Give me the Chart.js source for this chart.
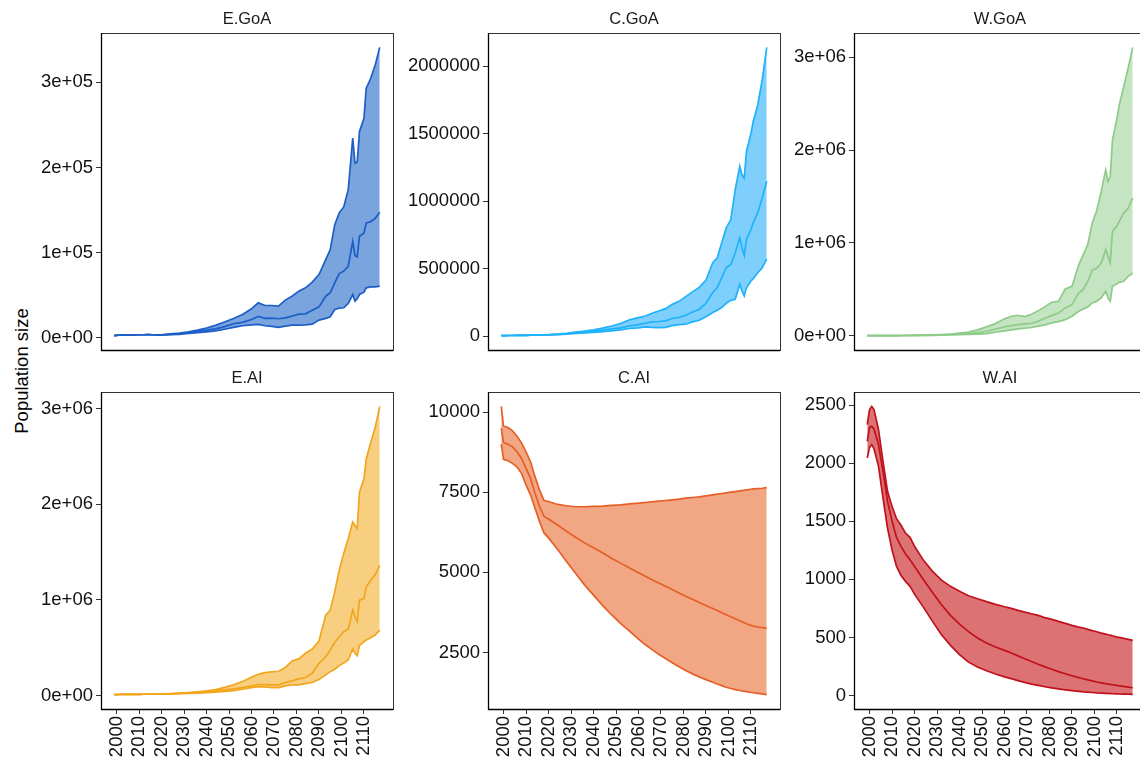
<!DOCTYPE html>
<html>
<head>
<meta charset="utf-8">
<script src="https://cdn.jsdelivr.net/npm/chart.js@4.4.1/dist/chart.umd.min.js"></script>
<style>
  body { margin: 0; background: #fff; width: 1140px; height: 765px; overflow: hidden; position: relative;
         font-family: "Liberation Sans", Arial, sans-serif; }
  canvas { position: absolute; }
  .strip { position: absolute; font-size: 16.5px; line-height: 18px; color: #1a1a1a; text-align: center; }
  #ylab { position: absolute; width: 240px; left: -98px; top: 361px; font-size: 18.5px; line-height: 20px;
          text-align: center; color: #000; transform: rotate(-90deg); }
</style>
</head>
<body>
<div id="ylab">Population size</div>
<script>
// simulation years (x values)
const years = [1999, 2000, 2001, 2002, 2004, 2006, 2008, 2010, 2012, 2014, 2016, 2018, 2020,
  2024, 2028, 2032, 2036, 2040, 2044, 2048, 2052, 2056, 2060, 2063, 2066, 2069, 2072, 2075,
  2078, 2081, 2084, 2087, 2090, 2093, 2095, 2097, 2099, 2101, 2103, 2105, 2106, 2107, 2108,
  2110, 2111, 2113, 2115, 2117];
const xTicks = [2000, 2010, 2020, 2030, 2040, 2050, 2060, 2070, 2080, 2090, 2100, 2110];

// E.GoA
const eGoaLow = [2600, 2800, 2900, 3000, 3200, 3300, 3400, 3500, 3500, 3600, 3500, 3300, 3200,
  3500, 4000, 5000, 6000, 7000, 8000, 10000, 12100, 14100, 15200, 15600, 14100, 13300, 12100, 13700,
  14800, 14800, 15200, 16000, 20700, 22700, 24600, 33200, 34800, 35200, 40200, 50800, 43000, 45700, 50800,
  53500, 58600, 59800, 59800, 60600];
const eGoaMid = [2600, 2800, 2900, 3000, 3200, 3300, 3400, 3500, 3500, 3600, 3500, 3300, 3300,
  4000, 4800, 6000, 7500, 9000, 10500, 13000, 16400, 18000, 21500, 25000, 22700, 23000, 22300, 23400,
  25400, 27700, 28100, 32400, 36300, 48800, 52800, 64500, 75400, 78200, 84000, 113300, 96500, 95000, 119200,
  123100, 134800, 136400, 140300, 147300];
const eGoaHigh = [2600, 2800, 2900, 3000, 3200, 3300, 3400, 3500, 3500, 3600, 3500, 3300, 3400,
  4500, 5500, 7000, 9000, 11500, 14500, 18500, 22700, 27400, 34000, 41000, 37900, 37900, 37100, 44200,
  48800, 54700, 58600, 65300, 74300, 91800, 103600, 132900, 146500, 153600, 173900, 234500, 205200, 206500, 242300,
  257900, 293100, 304800, 320400, 341100];

// C.GoA
const cGoaLow = [5000, 5000, 5100, 5200, 5500, 6000, 6500, 7000, 7500, 8000, 9000, 9500, 10000,
  12000, 15000, 20000, 24000, 28000, 34000, 40000, 47000, 57000, 62000, 69000, 66000, 64000, 66000, 79000,
  86000, 89000, 106000, 118000, 145000, 175000, 192000, 212000, 244000, 266000, 273000, 384000, 335000, 298000, 359000,
  409000, 426000, 470000, 507000, 573000];
const cGoaMid = [5000, 5000, 5100, 5200, 5500, 6000, 6500, 7000, 7800, 8500, 9500, 10500, 11000,
  14000, 18000, 25000, 31000, 38000, 46000, 55000, 62000, 77000, 86000, 96000, 106000, 109000, 114000, 131000,
  140000, 155000, 180000, 200000, 244000, 323000, 360000, 433000, 507000, 531000, 618000, 728000, 655000, 598000, 716000,
  790000, 839000, 913000, 1024000, 1147000];
const cGoaHigh = [5000, 5000, 5100, 5200, 5500, 6000, 6500, 7000, 8000, 9000, 10000, 11000, 12000,
  16000, 22000, 30000, 38000, 48000, 60000, 76000, 94000, 121000, 138000, 150000, 170000, 187000, 204000, 236000,
  258000, 293000, 328000, 362000, 416000, 544000, 581000, 692000, 802000, 862000, 1085000, 1258000, 1195000, 1171000, 1368000,
  1503000, 1590000, 1712000, 1897000, 2138000];

// W.GoA
const wGoaLow = [3000, 3000, 3000, 3000, 3100, 3200, 3300, 3400, 3500, 3700, 3900, 4100, 4300,
  5000, 6000, 8000, 10000, 12000, 15000, 18000, 25000, 39000, 54000, 64000, 75000, 82000, 90000, 104000,
  118000, 140000, 154000, 175000, 211000, 265000, 290000, 311000, 354000, 372000, 408000, 480000, 408000, 372000, 534000,
  562000, 576000, 587000, 641000, 677000];
const wGoaMid = [3000, 3000, 3000, 3000, 3100, 3200, 3300, 3400, 3600, 3800, 4000, 4300, 4600,
  6000, 8000, 11000, 15000, 18000, 24000, 34000, 50000, 72000, 97000, 111000, 122000, 129000, 136000, 158000,
  190000, 218000, 247000, 301000, 336000, 462000, 497000, 587000, 706000, 730000, 784000, 927000, 856000, 784000, 1124000,
  1185000, 1232000, 1321000, 1375000, 1482000];
const wGoaHigh = [3000, 3000, 3000, 3000, 3100, 3200, 3300, 3500, 3700, 4000, 4300, 4700, 5000,
  7000, 10000, 14000, 20000, 30000, 42000, 65000, 97000, 132000, 183000, 211000, 222000, 208000, 233000, 269000,
  315000, 362000, 372000, 505000, 534000, 766000, 874000, 981000, 1214000, 1350000, 1554000, 1786000, 1661000, 1715000, 2108000,
  2341000, 2484000, 2682000, 2886000, 3104000];

// E.AI
const eAiLow = [10000, 10000, 10500, 11000, 11500, 12000, 12500, 13000, 13500, 14000, 14500, 15000, 15000,
  16000, 19000, 23000, 26000, 30000, 36000, 44000, 52000, 66000, 83000, 94000, 90000, 83000, 83000, 101000,
  111000, 111000, 125000, 136000, 167000, 216000, 250000, 275000, 313000, 341000, 372000, 487000, 442000, 417000, 522000,
  563000, 580000, 605000, 633000, 685000];
const eAiMid = [10000, 10000, 10500, 11000, 11500, 12000, 12500, 13000, 13500, 14000, 14500, 15000, 15500,
  18000, 22000, 27000, 32000, 38000, 47000, 60000, 70000, 83000, 101000, 115000, 115000, 111000, 111000, 136000,
  153000, 174000, 188000, 233000, 337000, 407000, 476000, 556000, 615000, 668000, 695000, 894000, 824000, 772000, 998000,
  1015000, 1137000, 1207000, 1265000, 1363000];
const eAiHigh = [10000, 10000, 10500, 11000, 11500, 12000, 12500, 13000, 13500, 14000, 14500, 15000, 16000,
  20000, 25000, 31000, 38000, 48000, 62000, 85000, 111000, 146000, 191000, 222000, 240000, 247000, 254000, 292000,
  362000, 383000, 442000, 487000, 570000, 841000, 893000, 1085000, 1311000, 1485000, 1641000, 1815000, 1780000, 1745000, 2128000,
  2267000, 2475000, 2649000, 2806000, 3025000];

// C.AI
const cAiLow = [9000, 8523, 8500, 8481, 8399, 8285, 8089, 7727, 7418, 7004, 6591, 6230, 6075,
  5720, 5340, 4970, 4610, 4290, 3970, 3680, 3410, 3165, 2920, 2750, 2590, 2445, 2315, 2185,
  2055, 1940, 1835, 1740, 1655, 1573, 1520, 1468, 1420, 1380, 1345, 1318, 1305, 1293, 1280,
  1255, 1246, 1228, 1210, 1189];
const cAiMid = [9500, 9050, 9020, 8998, 8915, 8760, 8554, 8244, 7934, 7469, 7056, 6746, 6663,
  6477, 6281, 6095, 5920, 5765, 5610, 5444, 5289, 5134, 4990, 4876, 4773, 4670, 4566, 4463,
  4360, 4257, 4164, 4060, 3967, 3874, 3812, 3740, 3677, 3616, 3554, 3492, 3461, 3430, 3399,
  3347, 3327, 3296, 3275, 3254];
const cAiHigh = [10176, 9556, 9540, 9514, 9411, 9246, 9039, 8760, 8450, 7986, 7572, 7242, 7211,
  7118, 7077, 7046, 7046, 7056, 7066, 7087, 7108, 7139, 7159, 7180, 7201, 7221, 7242, 7263,
  7283, 7314, 7335, 7355, 7386, 7418, 7438, 7459, 7479, 7500, 7521, 7541, 7552, 7562, 7572,
  7593, 7603, 7614, 7624, 7645];

// W.AI
const wAiLow = [2046, 2138, 2161, 2126, 1974, 1701, 1443, 1256, 1112, 1034, 983, 940, 873,
  759, 638, 523, 431, 351, 287, 245, 212, 185, 160, 145, 128, 112, 98, 86,
  75, 65, 56, 48, 41, 35, 31, 28, 25, 22, 20, 18, 17, 16, 15,
  14, 13, 12, 11, 9];
const wAiMid = [2190, 2310, 2319, 2296, 2161, 1931, 1672, 1506, 1362, 1285, 1218, 1170, 1112,
  997, 888, 782, 690, 615, 550, 495, 452, 418, 388, 365, 341, 316, 292, 268,
  246, 225, 205, 187, 170, 153, 144, 134, 125, 116, 108, 101, 98, 95, 92,
  86, 83, 78, 72, 66];
const wAiHigh = [2333, 2463, 2491, 2463, 2290, 2017, 1759, 1629, 1523, 1466, 1399, 1362, 1285,
  1164, 1069, 994, 940, 897, 859, 833, 808, 785, 764, 750, 733, 718, 704, 690,
  670, 655, 638, 621, 604, 589, 581, 569, 558, 549, 537, 529, 523, 520, 514,
  503, 500, 491, 483, 474];

// y tick values and their printed labels
const ticksSci5 = [0, 100000, 200000, 300000];
const labelsSci5 = ["0e+00", "1e+05", "2e+05", "3e+05"];
const ticksC = [0, 500000, 1000000, 1500000, 2000000];
const labelsC = ["0", "500000", "1000000", "1500000", "2000000"];
const ticksSci6 = [0, 1000000, 2000000, 3000000];
const labelsSci6 = ["0e+00", "1e+06", "2e+06", "3e+06"];
const ticksCAi = [2500, 5000, 7500, 10000];
const ticksWAi = [0, 500, 1000, 1500, 2000, 2500];

// layout of the facet grid (plot areas in page pixels)
const colLeft = [101, 488, 854];
const rowTop = [33, 392];
const plotW = 292, plotH = 317;

const panels = [
  {name: "E.GoA", lo: eGoaLow, mid: eGoaMid, hi: eGoaHigh, line: "#1c5ec6", fill: "#7aa4dd",
   yMin: -14400, yMax: 358000, yTicks: ticksSci5, yLabels: labelsSci5, col: 0, row: 0},
  {name: "C.GoA", lo: cGoaLow, mid: cGoaMid, hi: cGoaHigh, line: "#1fb2fb", fill: "#7fcffd",
   yMin: -102000, yMax: 2245000, yTicks: ticksC, yLabels: labelsC, col: 1, row: 0},
  {name: "W.GoA", lo: wGoaLow, mid: wGoaMid, hi: wGoaHigh, line: "#8ecb88", fill: "#c5e4c1",
   yMin: -152000, yMax: 3259000, yTicks: ticksSci6, yLabels: labelsSci6, col: 2, row: 0},
  {name: "E.AI", lo: eAiLow, mid: eAiMid, hi: eAiHigh, line: "#f2a61e", fill: "#f8cf80",
   yMin: -141000, yMax: 3176000, yTicks: ticksSci6, yLabels: labelsSci6, col: 0, row: 1},
  {name: "C.AI", lo: cAiLow, mid: cAiMid, hi: cAiHigh, line: "#e65f26", fill: "#f1a784",
   yMin: 740, yMax: 10625, yTicks: ticksCAi, yLabels: null, col: 1, row: 1},
  {name: "W.AI", lo: wAiLow, mid: wAiMid, hi: wAiHigh, line: "#c0111c", fill: "#dc7273",
   yMin: -117, yMax: 2615, yTicks: ticksWAi, yLabels: null, col: 2, row: 1},
];

// frame round each panel: grey box, black left/bottom axis lines
const framePlugin = {
  id: "frame",
  afterDraw(chart) {
    const a = chart.chartArea;
    const ctx = chart.ctx;
    ctx.save();
    ctx.strokeStyle = "#333";
    ctx.lineWidth = 1;
    ctx.strokeRect(a.left + 0.5, a.top + 0.5, a.right - a.left, a.bottom - a.top);
    ctx.strokeStyle = "#000";
    ctx.lineWidth = 1.3;
    ctx.beginPath();
    ctx.moveTo(a.left + 0.5, a.top);
    ctx.lineTo(a.left + 0.5, a.bottom + 0.5);
    ctx.lineTo(a.right, a.bottom + 0.5);
    ctx.stroke();
    ctx.restore();
  }
};

function toPoints(arr) {
  return years.map((yr, i) => ({x: yr, y: arr[i]}));
}

function drawPanel(p) {
  const bottomRow = p.row == 1;
  const axisW = 95, padTop = 20, padRight = 14, padBottom = 20;
  const axisH = bottomRow ? 60 : 0;

  let canvas = document.createElement("canvas");
  canvas.width = axisW + plotW + padRight;
  canvas.height = padTop + plotH + axisH + padBottom;
  canvas.style.left = (colLeft[p.col] - axisW) + "px";
  canvas.style.top = (rowTop[p.row] - padTop) + "px";
  document.body.append(canvas);

  let strip = document.createElement("div");
  strip.className = "strip";
  strip.textContent = p.name;
  strip.style.left = colLeft[p.col] + "px";
  strip.style.width = plotW + "px";
  strip.style.top = (rowTop[p.row] - 24) + "px";
  document.body.append(strip);

  const lineDs = (arr) => ({
    data: toPoints(arr),
    borderColor: p.line,
    borderWidth: 1.7,
    pointRadius: 0,
    tension: 0,
    fill: false,
  });
  let hiDs = lineDs(p.hi);
  hiDs.fill = 0; // ribbon from lower to upper
  hiDs.backgroundColor = p.fill;

  const tickFont = {family: "'Liberation Sans', Arial, sans-serif", size: 18.5};

  new Chart(canvas, {
    type: "line",
    data: {datasets: [lineDs(p.lo), lineDs(p.mid), hiDs]},
    plugins: [framePlugin],
    options: {
      responsive: false,
      animation: false,
      devicePixelRatio: 1,
      layout: {padding: {top: padTop, right: padRight, bottom: padBottom, left: 0}},
      plugins: {
        legend: {display: false},
        tooltip: {enabled: false},
        filler: {drawTime: "beforeDatasetsDraw"},
      },
      scales: {
        x: {
          type: "linear",
          min: 1993.1,
          max: 2122.9,
          afterBuildTicks: (s) => { s.ticks = xTicks.map(v => ({value: v})); },
          afterFit: (s) => { s.height = axisH; },
          border: {display: false},
          grid: {display: bottomRow, drawOnChartArea: false, drawTicks: true, tickLength: 5, tickColor: "#333"},
          ticks: {
            display: bottomRow,
            minRotation: 90, maxRotation: 90,
            autoSkip: false,
            padding: 2,
            color: "#111",
            font: tickFont,
            callback: (v) => String(v),
          },
        },
        y: {
          min: p.yMin,
          max: p.yMax,
          afterBuildTicks: (s) => { s.ticks = p.yTicks.map(v => ({value: v})); },
          afterFit: (s) => { s.width = axisW; },
          border: {display: false},
          grid: {drawOnChartArea: false, drawTicks: true, tickLength: 5, tickColor: "#333"},
          ticks: {
            padding: 3,
            color: "#111",
            font: tickFont,
            callback: (v, i) => p.yLabels ? p.yLabels[i] : String(v),
          },
        },
      },
    },
  });
}

panels.forEach(drawPanel);
</script>
</body>
</html>
